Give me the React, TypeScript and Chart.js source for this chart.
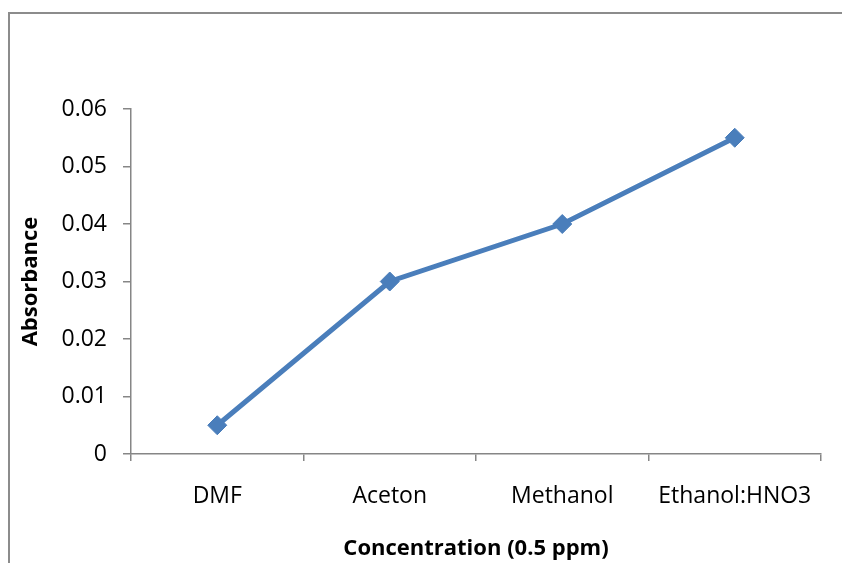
import React, { useEffect, useRef } from "react";
import { Chart, registerables } from "chart.js";

Chart.register(...registerables);

const categories = ["DMF", "Aceton", "Methanol", "Ethanol:HNO3"];
const absorbance = [0.005, 0.03, 0.04, 0.055];
const yMin = 0;
const yMax = 0.06;
const yStep = 0.01;
const yTitle = "Absorbance";
const xTitle = "Concentration (0.5 ppm)";

const FONT = "'Open Sans', sans-serif";
const AXIS = "#868686";
const BLUE = "#4a7ebb";

export default function App() {
  const ref = useRef<HTMLCanvasElement | null>(null);

  useEffect(() => {
    if (!ref.current) return;
    const chart = new Chart(ref.current, {
      type: "line",
      data: {
        labels: categories,
        datasets: [
          {
            data: absorbance,
            borderColor: BLUE,
            backgroundColor: BLUE,
            borderWidth: 5,
            pointStyle: "rectRot",
            pointRadius: 9.5,
            pointBorderWidth: 1,
            pointBackgroundColor: BLUE,
            pointBorderColor: BLUE,
            tension: 0,
          },
        ],
      },
      options: {
        animation: false,
        responsive: false,
        devicePixelRatio: 1,
        layout: { padding: { left: 0, right: 21, top: 109, bottom: 0 } },
        plugins: { legend: { display: false }, tooltip: { enabled: false } },
        scales: {
          x: {
            type: "category",
            offset: true,
            grid: {
              offset: true,
              drawOnChartArea: false,
              drawTicks: true,
              tickLength: 7,
              tickColor: AXIS,
              lineWidth: 1.5,
            },
            border: { display: true, color: AXIS, width: 1.5 },
            ticks: {
              color: "#000",
              font: { family: FONT, size: 23 },
              padding: 22,
              maxRotation: 0,
            },
            title: {
              display: true,
              text: xTitle,
              color: "#000",
              font: { family: FONT, size: 22, weight: "bold" },
              padding: { top: 0, bottom: 1 },
            },
            afterFit: (s: any) => {
              s.height = 109;
            },
          },
          y: {
            type: "linear",
            min: yMin,
            max: yMax,
            grid: {
              drawOnChartArea: false,
              drawTicks: true,
              tickLength: 8,
              tickColor: AXIS,
              lineWidth: 1.5,
            },
            border: { display: true, color: AXIS, width: 1.5 },
            ticks: {
              stepSize: yStep,
              color: "#000",
              font: { family: FONT, size: 23 },
              padding: 16,
              callback: (v: any) => String(Math.round(Number(v) * 100) / 100),
            },
            title: {
              display: true,
              text: yTitle,
              color: "#000",
              font: { family: FONT, size: 22, weight: "bold" },
              padding: { top: 18, bottom: 0 },
            },
            afterFit: (s: any) => {
              s.width = 131;
            },
          },
        },
      },
    });
    return () => chart.destroy();
  }, []);

  return (
    <div
      style={{
        position: "fixed",
        left: 0,
        top: 0,
        width: 842,
        height: 563,
        background: "#fff",
        overflow: "hidden",
      }}
    >
      <div
        style={{
          position: "absolute",
          left: 8,
          top: 12,
          width: 900,
          height: 700,
          borderLeft: "2.5px solid #8c8c8c",
          borderTop: "2px solid #8c8c8c",
        }}
      />
      <canvas
        ref={ref}
        width={842}
        height={563}
        style={{ position: "absolute", left: 0, top: 0, width: 842, height: 563 }}
      />
    </div>
  );
}
